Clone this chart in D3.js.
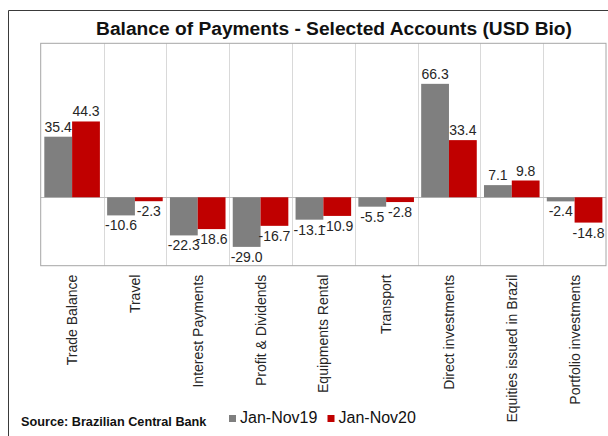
<!DOCTYPE html>
<html>
<head>
<meta charset="utf-8">
<script src="https://cdn.jsdelivr.net/npm/d3@7"></script>
<style>
  html, body { margin: 0; padding: 0; background: #fff; }
  svg { display: block; font-family: "Liberation Sans", Arial, sans-serif; }
</style>
</head>
<body>
<svg id="chart" width="608" height="436"></svg>
<script>
const categories = ["Trade Balance", "Travel", "Interest Payments", "Profit & Dividends",
  "Equipments Rental", "Transport", "Direct investments", "Equities issued in Brazil",
  "Portfolio investments"];
const seriesNames = ["Jan-Nov19", "Jan-Nov20"];
const jan19 = [35.4, -10.6, -22.3, -29.0, -13.1, -5.5, 66.3, 7.1, -2.4];
const jan20 = [44.3, -2.3, -18.6, -16.7, -10.9, -2.8, 33.4, 9.8, -14.8];
const colors = ["#7f7f7f", "#c00000"];
const yDomain = [-40, 90];

const svg = d3.select("#chart");
const plot = { left: 40.7, right: 606, top: 43.3, bottom: 265.7 };

// outer frame
svg.append("path")
  .attr("d", "M8.5,436 V10.5 H608")
  .attr("fill", "none").attr("stroke", "#3a3a3a").attr("stroke-width", 1);

// title
svg.append("text")
  .attr("x", 334).attr("y", 35)
  .attr("text-anchor", "middle")
  .attr("font-size", "19.2px").attr("font-weight", "bold").attr("fill", "#111")
  .text("Balance of Payments - Selected Accounts (USD Bio)");

const x = d3.scaleBand().domain(categories).range([plot.left, plot.right]).padding(0);
const xs = d3.scaleBand().domain(seriesNames).range([0, x.bandwidth()]).paddingInner(0).paddingOuter(0.13);
const y = d3.scaleLinear().domain(yDomain).range([plot.bottom, plot.top]);

// vertical grid lines at category boundaries
const gridG = svg.append("g");
categories.slice(1).forEach(c => {
  gridG.append("line")
    .attr("x1", Math.round(x(c)) + 0.5).attr("x2", Math.round(x(c)) + 0.5)
    .attr("y1", plot.top).attr("y2", plot.bottom)
    .attr("stroke", "#d9d9d9").attr("stroke-width", 1);
});

// zero line
svg.append("line")
  .attr("x1", plot.left).attr("x2", plot.right)
  .attr("y1", Math.round(y(0)) + 0.5).attr("y2", Math.round(y(0)) + 0.5)
  .attr("stroke", "#bfbfbf").attr("stroke-width", 1);

// bars
const data = [];
categories.forEach((c, i) => {
  data.push({ cat: c, s: seriesNames[0], v: jan19[i], color: colors[0] });
  data.push({ cat: c, s: seriesNames[1], v: jan20[i], color: colors[1] });
});

svg.append("g").selectAll("rect").data(data).join("rect")
  .attr("x", d => x(d.cat) + xs(d.s))
  .attr("width", xs.bandwidth())
  .attr("y", d => Math.min(y(d.v), y(0)))
  .attr("height", d => Math.abs(y(d.v) - y(0)))
  .attr("fill", d => d.color);

// value labels (plain hyphen-minus like the reference)
svg.append("g").selectAll("text").data(data).join("text")
  .attr("x", d => x(d.cat) + xs(d.s) + xs.bandwidth() / 2)
  .attr("y", d => d.v >= 0 ? y(d.v) - 5 : y(d.v) + 15)
  .attr("text-anchor", "middle")
  .attr("font-size", "14px").attr("fill", "#262626")
  .text(d => d.v.toFixed(1));

// plot border
svg.append("rect")
  .attr("x", plot.left).attr("y", plot.top)
  .attr("width", plot.right - plot.left).attr("height", plot.bottom - plot.top)
  .attr("fill", "none").attr("stroke", "#a6a6a6").attr("stroke-width", 1);

// x axis labels (rotated)
const xAxis = d3.axisBottom(x).tickSize(0).tickPadding(0);
const xg = svg.append("g").attr("transform", `translate(0,${plot.bottom})`).call(xAxis);
xg.select(".domain").remove();
xg.selectAll(".tick text")
  .attr("font-size", "14px").attr("font-family", "Liberation Sans, Arial, sans-serif")
  .attr("fill", "#262626")
  .attr("text-anchor", "end")
  .attr("transform", "translate(5,9) rotate(-90)")
  .attr("x", 0).attr("y", 0).attr("dy", 0);

// legend
const legend = svg.append("g");
const legendItems = [{ name: seriesNames[0], color: colors[0], x: 229 }, { name: seriesNames[1], color: colors[1], x: 327.5 }];
legendItems.forEach(it => {
  legend.append("rect").attr("x", it.x).attr("y", 415).attr("width", 7).attr("height", 7).attr("fill", it.color);
  legend.append("text").attr("x", it.x + 11).attr("y", 423)
    .attr("font-size", "16px").attr("fill", "#111").text(it.name);
});

// source
svg.append("text")
  .attr("x", 21).attr("y", 426)
  .attr("font-size", "12.7px").attr("font-weight", "bold").attr("fill", "#111")
  .text("Source: Brazilian Central Bank");
</script>
</body>
</html>
